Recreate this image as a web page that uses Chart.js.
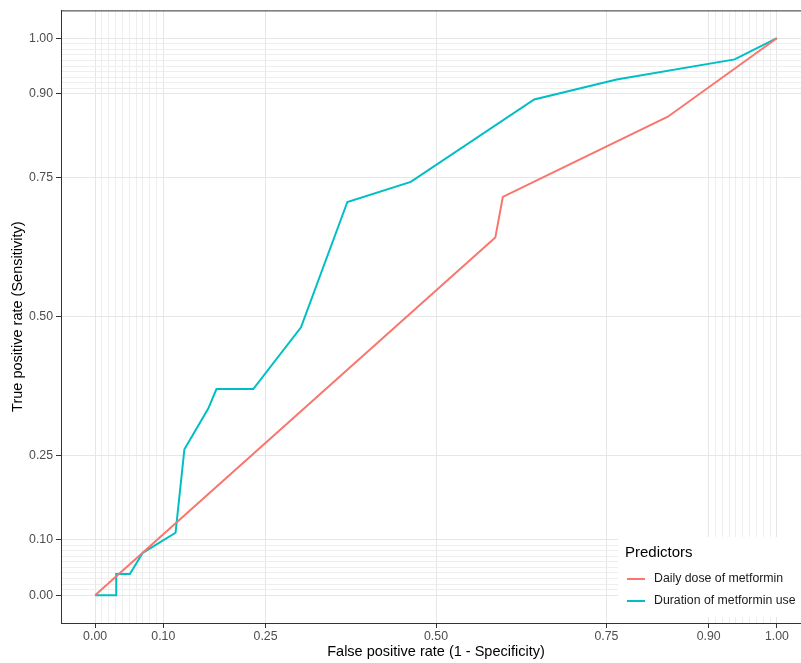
<!DOCTYPE html>
<html>
<head>
<meta charset="utf-8">
<title>ROC curves - metformin predictors</title>
<script src="https://cdn.jsdelivr.net/npm/chart.js@4.4.1/dist/chart.umd.min.js"></script>
<style>
    html, body { margin: 0; padding: 0; background: #fff; overflow: hidden; }
    #wrap { width: 801px; height: 663px; overflow: hidden; }
</style>
</head>
<body>
<div id="wrap"><canvas id="rocChart" width="812" height="663"></canvas></div>
<script>
// ROC data (false positive rate / true positive rate)
const dailyDoseFpr = [0, 0.587, 0.598, 0.840, 1];
const dailyDoseTpr = [0, 0.642, 0.715, 0.859, 1];

const durationFpr = [0, 0.031, 0.031, 0.051, 0.070, 0.118, 0.131, 0.166, 0.178, 0.232, 0.302, 0.370, 0.463, 0.644, 0.765, 0.938, 1];
const durationTpr = [0, 0, 0.038, 0.038, 0.076, 0.112, 0.262, 0.335, 0.370, 0.370, 0.481, 0.706, 0.742, 0.890, 0.926, 0.962, 1];

const seriesNames = ['Daily dose of metformin', 'Duration of metformin use'];
const seriesColors = ['#F8766D', '#00BFC4'];
const legendTitle = 'Predictors';

// axis breaks (labelled) and minor breaks (grid only)
const majorBreaks = [0, 0.1, 0.25, 0.5, 0.75, 0.9, 1];
const minorBreaks = [0.01, 0.02, 0.03, 0.04, 0.05, 0.06, 0.07, 0.08, 0.09,
                     0.91, 0.92, 0.93, 0.94, 0.95, 0.96, 0.97, 0.98, 0.99];

const FONT = '"Liberation Sans", Arial, sans-serif';

function toPoints(xs, ys) {
    return xs.map((x, i) => ({ x: x, y: ys[i] }));
}

const allBreaks = majorBreaks.concat(minorBreaks).sort((a, b) => a - b);
const isMajor = v => majorBreaks.includes(v);

// shared axis setup (ggplot-ish theme_bw)
function axisOptions(titleText, isX) {
    return {
        type: 'linear',
        min: -0.05,
        max: 1.05,
        afterBuildTicks: scale => { scale.ticks = allBreaks.map(v => ({ value: v })); },
        afterFit: scale => {
            if (isX) scale.height = 40;
            else scale.width = 61;
        },
        grid: {
            color: ctx => isMajor(ctx.tick.value) ? '#e6e6e6' : '#ececec',
            lineWidth: ctx => isMajor(ctx.tick.value) ? 1 : 0.9,
            tickColor: ctx => isMajor(ctx.tick.value) ? '#333333' : 'rgba(0,0,0,0)',
            tickLength: 5,
            drawTicks: true
        },
        border: { display: true, color: '#333333', width: 1 },
        ticks: {
            autoSkip: false,
            maxRotation: 0,
            minRotation: 0,
            padding: isX ? 1 : 3,
            color: '#4d4d4d',
            font: { family: FONT, size: 12.3 },
            callback: v => isMajor(v) ? v.toFixed(2) : ''
        },
        title: {
            display: true,
            text: titleText,
            color: '#000000',
            font: { family: FONT, size: 14.5 },
            padding: isX ? { top: 0, bottom: 2.3 } : { top: 9.3, bottom: 0 }
        }
    };
}

// panel border + legend inside the bottom-right corner
const panelAndLegend = {
    id: 'panelAndLegend',
    afterDraw(chart) {
        const { ctx, chartArea } = chart;
        ctx.save();
        ctx.strokeStyle = '#333333';
        ctx.lineWidth = 1;
        ctx.strokeRect(chartArea.left + 0.5, chartArea.top + 0.5,
            chartArea.right - chartArea.left, chartArea.bottom - chartArea.top);

        // legend box
        const boxLeft = chartArea.right - 193;
        const boxTop = chartArea.bottom - 86;
        const boxBottom = chartArea.bottom - 6;
        ctx.fillStyle = '#ffffff';
        ctx.fillRect(boxLeft, boxTop, chartArea.right - boxLeft - 1, boxBottom - boxTop);

        ctx.fillStyle = '#000000';
        ctx.textBaseline = 'middle';
        ctx.textAlign = 'left';
        ctx.font = '15px ' + FONT;
        ctx.fillText(legendTitle, boxLeft + 7, boxTop + 16);

        ctx.font = '12.3px ' + FONT;
        chart.data.datasets.forEach((ds, i) => {
            const y = boxTop + 42 + i * 22;
            ctx.strokeStyle = ds.borderColor;
            ctx.lineWidth = 2;
            ctx.beginPath();
            ctx.moveTo(boxLeft + 9, y);
            ctx.lineTo(boxLeft + 27, y);
            ctx.stroke();
            ctx.fillStyle = '#1a1a1a';
            ctx.fillText(ds.label, boxLeft + 36, y);
        });
        ctx.restore();
    }
};

const ctx = document.getElementById('rocChart').getContext('2d');
new Chart(ctx, {
    type: 'line',
    data: {
        datasets: [
            {
                label: seriesNames[0],
                data: toPoints(dailyDoseFpr, dailyDoseTpr),
                borderColor: seriesColors[0],
                backgroundColor: seriesColors[0],
                borderWidth: 2,
                pointRadius: 0,
                tension: 0,
                fill: false
            },
            {
                label: seriesNames[1],
                data: toPoints(durationFpr, durationTpr),
                borderColor: seriesColors[1],
                backgroundColor: seriesColors[1],
                borderWidth: 2,
                pointRadius: 0,
                tension: 0,
                fill: false
            }
        ]
    },
    options: {
        responsive: false,
        animation: false,
        layout: { padding: { top: 10, right: 1, left: 0, bottom: 0 } },
        plugins: {
            legend: { display: false },
            tooltip: { enabled: false }
        },
        scales: {
            x: axisOptions('False positive rate (1 - Specificity)', true),
            y: axisOptions('True positive rate (Sensitivity)', false)
        }
    },
    plugins: [panelAndLegend]
});
</script>
</body>
</html>
